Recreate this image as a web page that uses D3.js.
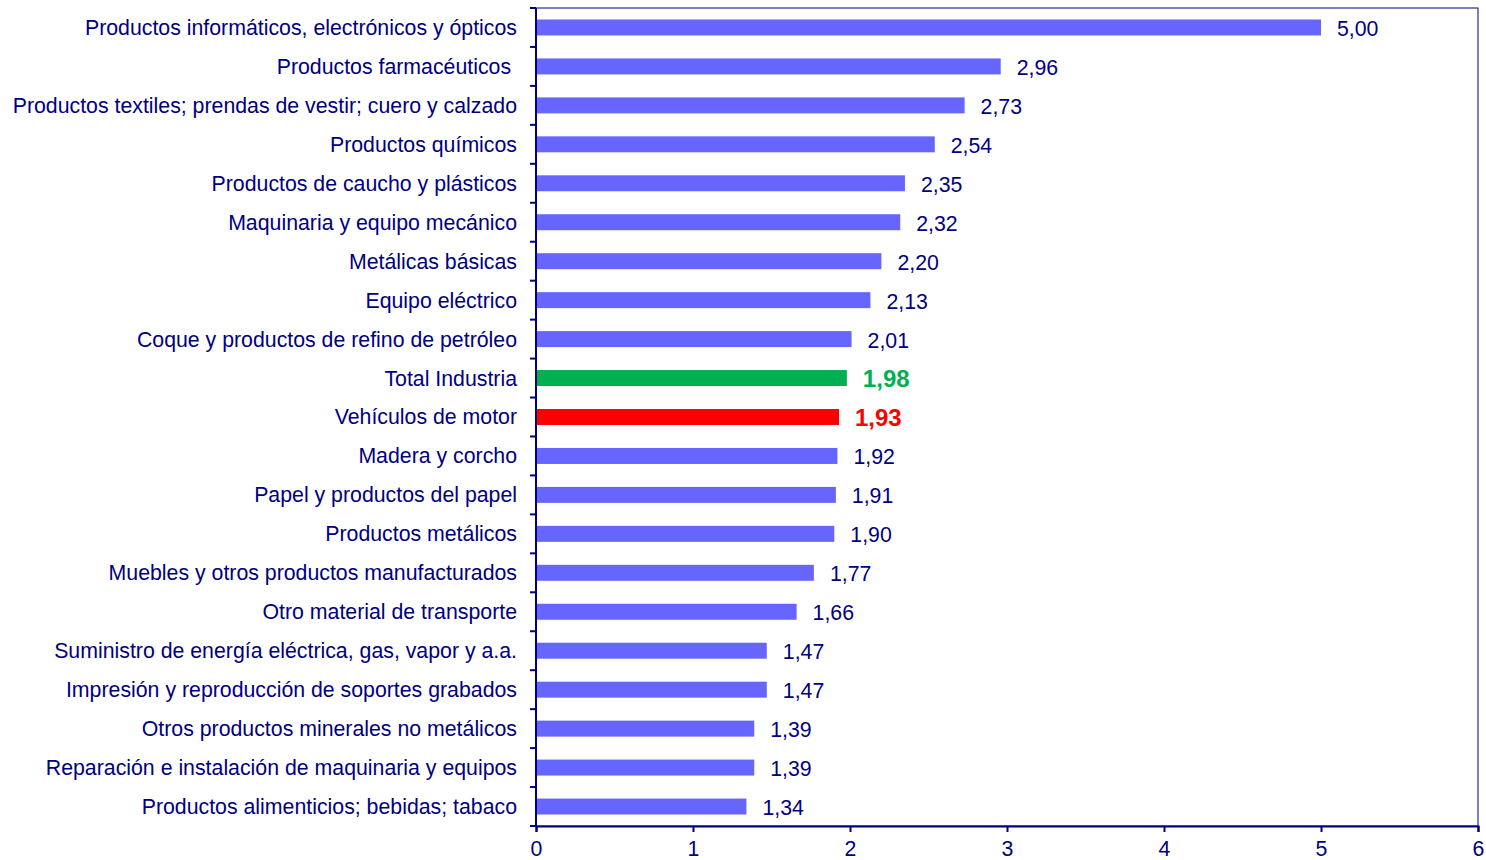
<!DOCTYPE html>
<meta charset="utf-8">
<style>
body { margin: 0; background: #fff; }
text { font-family: "Liberation Sans", Arial, sans-serif; font-size: 21.3px; fill: #000080; white-space: pre; }
.axis path, .axis line { stroke: #000080; }
</style>
<svg width="1486" height="860"></svg>
<script src="https://cdn.jsdelivr.net/npm/d3@7"></script>
<script>

var categories = [
  "Productos informáticos, electrónicos y ópticos",
  "Productos farmacéuticos ",
  "Productos textiles; prendas de vestir; cuero y calzado",
  "Productos químicos",
  "Productos de caucho y plásticos",
  "Maquinaria y equipo mecánico",
  "Metálicas básicas",
  "Equipo eléctrico",
  "Coque y productos de refino de petróleo",
  "Total Industria",
  "Vehículos de motor",
  "Madera y corcho",
  "Papel y productos del papel",
  "Productos metálicos",
  "Muebles y otros productos manufacturados",
  "Otro material de transporte",
  "Suministro de energía eléctrica, gas, vapor y a.a.",
  "Impresión y reproducción de soportes grabados",
  "Otros productos minerales no metálicos",
  "Reparación e instalación de maquinaria y equipos",
  "Productos alimenticios; bebidas; tabaco"
];
var values = [5.00, 2.96, 2.73, 2.54, 2.35, 2.32, 2.20, 2.13, 2.01, 1.98, 1.93,
              1.92, 1.91, 1.90, 1.77, 1.66, 1.47, 1.47, 1.39, 1.39, 1.34];
var xTicks = [0, 1, 2, 3, 4, 5, 6];

// highlighted rows
var special = {
  "Total Industria": "#00B050",
  "Vehículos de motor": "#FF0000"
};

var svg = d3.select("svg"),
    plotLeft = 536, plotRight = 1478, plotTop = 8, plotBottom = 826;

var x = d3.scaleLinear().domain([0, 6]).range([plotLeft, plotRight]);
var y = d3.scaleBand().domain(categories).range([plotTop, plotBottom]).paddingInner(0.59).paddingOuter(0.295);

var data = categories.map(function(c, i) { return {name: c, value: values[i]}; });
var fmt = function(v) { return d3.format(".2f")(v).replace(".", ","); };

// plot border (top/right)
svg.append("rect")
    .attr("x", plotLeft).attr("y", plotTop)
    .attr("width", plotRight - plotLeft).attr("height", plotBottom - plotTop)
    .attr("fill", "none").attr("stroke", "#000080").attr("stroke-width", 1);

svg.selectAll(".bar")
  .data(data)
  .enter().append("rect")
    .attr("class", "bar")
    .attr("x", x(0))
    .attr("y", function(d) { return y(d.name); })
    .attr("width", function(d) { return x(d.value) - x(0); })
    .attr("height", y.bandwidth())
    .attr("fill", function(d) { return special[d.name] || "#6666FF"; });

svg.selectAll(".val")
  .data(data)
  .enter().append("text")
    .attr("class", "val")
    .attr("x", function(d) { return x(d.value) + 16; })
    .attr("y", function(d) { return y(d.name) + y.bandwidth() / 2 + 1; })
    .attr("dy", "0.35em")
    .style("fill", function(d) { return special[d.name] || "#000080"; })
    .style("font-weight", function(d) { return special[d.name] ? "bold" : "normal"; })
    .style("font-size", function(d) { return special[d.name] ? "24px" : "21.3px"; })
    .text(function(d) { return fmt(d.value); });

// category labels
svg.selectAll(".cat")
  .data(data)
  .enter().append("text")
    .attr("class", "cat")
    .attr("x", plotLeft - 19)
    .attr("y", function(d) { return y(d.name) + y.bandwidth() / 2; })
    .attr("dy", "0.35em")
    .attr("text-anchor", "end")
    .text(function(d) { return d.name; });

// y-axis line with boundary ticks
var step = (plotBottom - plotTop) / categories.length;
var bounds = d3.range(categories.length + 1).map(function(i) { return plotTop + i * step; });
svg.selectAll(".ytick")
  .data(bounds)
  .enter().append("line")
    .attr("x1", plotLeft - 6).attr("x2", plotLeft)
    .attr("y1", function(d) { return d; }).attr("y2", function(d) { return d; })
    .attr("stroke", "#000080").attr("stroke-width", 2);
svg.append("line")
    .attr("x1", plotLeft).attr("x2", plotLeft).attr("y1", plotTop).attr("y2", plotBottom)
    .attr("stroke", "#000080").attr("stroke-width", 2);

// x-axis
var xAxis = svg.append("g")
    .attr("class", "axis")
    .attr("transform", "translate(0," + plotBottom + ")")
    .call(d3.axisBottom(x).tickValues(xTicks).tickSize(6).tickPadding(9).tickFormat(d3.format("d")));
xAxis.select(".domain").attr("stroke-width", 2);
xAxis.selectAll(".tick line").attr("stroke-width", 2);
xAxis.selectAll("text").style("font-size", "21.3px").style("fill", "#000080");

</script>
